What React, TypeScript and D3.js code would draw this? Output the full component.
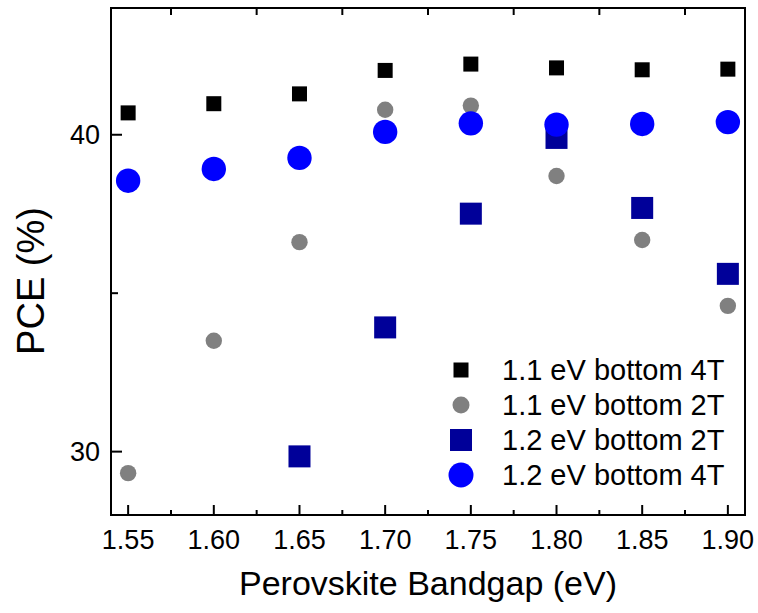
import React from "react";
import * as d3 from "d3";

const bandgaps = [1.55, 1.6, 1.65, 1.7, 1.75, 1.8, 1.85, 1.9];
const bottom11_4T = [40.69, 40.98, 41.29, 42.03, 42.23, 42.11, 42.05, 42.07];
const bottom11_2T = [29.32, 33.5, 36.61, 40.79, 40.92, 38.7, 36.68, 34.6];
const bandgaps12_2T = [1.65, 1.7, 1.75, 1.8, 1.85, 1.9];
const bottom12_2T = [29.85, 33.92, 37.51, 39.9, 37.69, 35.61];
const bottom12_4T = [38.55, 38.92, 39.27, 40.09, 40.36, 40.32, 40.34, 40.4];

const xMajorTicks = [1.55, 1.6, 1.65, 1.7, 1.75, 1.8, 1.85, 1.9];
const xMinorTicks = [1.575, 1.625, 1.675, 1.725, 1.775, 1.825, 1.875];
const yMajorTicks = [30, 40];
const yMinorTicks = [35];

const legendLabels = [
  "1.1 eV bottom 4T",
  "1.1 eV bottom 2T",
  "1.2 eV bottom 2T",
  "1.2 eV bottom 4T",
];

const W = 758;
const H = 613;
const FONT = "'Liberation Sans', Arial, Helvetica, sans-serif";

export default function App() {
  const x = d3.scaleLinear().domain([1.54, 1.91]).range([111, 745]);
  const y = d3.scaleLinear().domain([28, 44]).range([515, 8]);
  const [x0, x1] = x.range();
  const [y0, y1] = y.range();

  const square = (cx: number, cy: number, s: number, fill: string, key: string) => (
    <rect key={key} x={cx - s / 2} y={cy - s / 2} width={s} height={s} fill={fill} />
  );

  const legendX = 461;
  const legendTextX = 502;
  const legendY0 = 370;
  const legendDy = 35;

  return (
    <div style={{ position: "absolute", left: 0, top: 0 }}>
      <svg width={W} height={H} style={{ display: "block", background: "#fff" }} fontFamily={FONT}>
        {/* data */}
        <g>
          {bandgaps.map((b, i) => square(x(b), y(bottom11_4T[i]), 15, "#000000", "k" + i))}
          {bandgaps.map((b, i) => (
            <circle key={"g" + i} cx={x(b)} cy={y(bottom11_2T[i])} r={8.2} fill="#808080" />
          ))}
          {bandgaps12_2T.map((b, i) => square(x(b), y(bottom12_2T[i]), 22, "#000099", "n" + i))}
          {bandgaps.map((b, i) => (
            <circle key={"b" + i} cx={x(b)} cy={y(bottom12_4T[i])} r={12.2} fill="#0000ff" />
          ))}
        </g>

        {/* axes frame */}
        <g stroke="#000" strokeWidth={2} fill="none">
          <path d={`M${x0},${y1}V${y0}H${x1}V${y1}Z`} />
          {xMajorTicks.map((t) => (
            <line key={"xM" + t} x1={x(t)} x2={x(t)} y1={y0} y2={y0 - 10} />
          ))}
          {xMinorTicks.map((t) => (
            <line key={"xm" + t} x1={x(t)} x2={x(t)} y1={y0} y2={y0 - 5} />
          ))}
          {xMinorTicks.map((t) => (
            <line key={"xt" + t} x1={x(t)} x2={x(t)} y1={y1} y2={y1 + 7} />
          ))}
          {yMajorTicks.map((t) => (
            <line key={"yM" + t} x1={x0} x2={x0 + 11} y1={y(t)} y2={y(t)} />
          ))}
          {yMinorTicks.map((t) => (
            <line key={"ym" + t} x1={x0} x2={x0 + 7} y1={y(t)} y2={y(t)} />
          ))}
        </g>

        {/* tick labels */}
        <g fontSize={27} fill="#000">
          {xMajorTicks.map((t) => (
            <text key={"xl" + t} x={x(t)} y={549} textAnchor="middle">
              {d3.format(".2f")(t)}
            </text>
          ))}
          {yMajorTicks.map((t) => (
            <text key={"yl" + t} x={100} y={y(t)} dy="0.35em" textAnchor="end">
              {t}
            </text>
          ))}
        </g>

        {/* axis titles */}
        <text x={428} y={595} textAnchor="middle" fontSize={34} fill="#000">
          Perovskite Bandgap (eV)
        </text>
        <text
          transform={`translate(44,281) rotate(-90)`}
          textAnchor="middle"
          fontSize={38}
          fill="#000"
        >
          PCE (%)
        </text>

        {/* legend */}
        <g fontSize={29} fill="#000">
          {legendLabels.map((l, i) => {
            const cy = legendY0 + i * legendDy;
            let sym;
            if (i === 0) sym = square(legendX, cy, 15, "#000000", "ls0");
            else if (i === 1) sym = <circle cx={legendX} cy={cy} r={8.5} fill="#808080" />;
            else if (i === 2) sym = square(legendX, cy, 22, "#000099", "ls2");
            else sym = <circle cx={legendX} cy={cy} r={12.5} fill="#0000ff" />;
            return (
              <g key={"lg" + i}>
                {sym}
                <text x={legendTextX} y={cy} dy="0.36em">
                  {l}
                </text>
              </g>
            );
          })}
        </g>
      </svg>
    </div>
  );
}
